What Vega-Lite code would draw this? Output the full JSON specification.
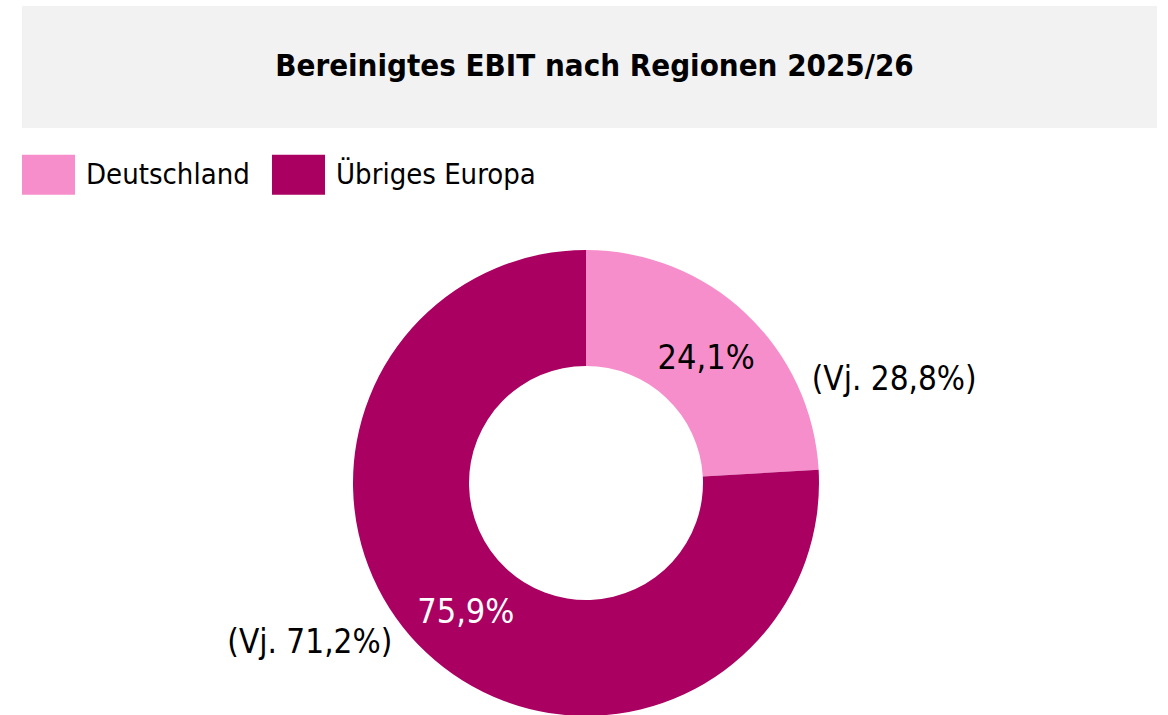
{
  "$schema": "https://vega.github.io/schema/vega-lite/v6.json",
  "padding": {"left": 22, "top": 6, "right": 0, "bottom": 0},
  "background": "white",
  "config": {
    "view": {"stroke": null},
    "font": "DejaVu Sans Condensed, Roboto Condensed, Roboto, sans-serif",
    "concat": {"spacing": 20}
  },
  "resolve": {"legend": {"color": "independent"}, "scale": {"color": "independent"}},
  "datasets": {
    "regions": [
      {"region": "Deutschland", "share": 24.1, "label": "24,1%", "prior": "(Vj. 28,8%)"},
      {"region": "Übriges Europa", "share": 75.9, "label": "75,9%", "prior": "(Vj. 71,2%)"}
    ],
    "title": [{"text": "Bereinigtes EBIT nach Regionen 2025/26"}]
  },
  "vconcat": [
    {
      "width": 1135,
      "height": 122,
      "view": {"fill": "#f2f2f2", "stroke": null},
      "data": {"name": "title"},
      "mark": {"type": "text", "font": "DejaVu Sans Condensed, Roboto Condensed, Roboto, sans-serif", "fontWeight": "bold", "fontSize": 31, "color": "#000000", "align": "center", "baseline": "middle", "dx": 5},
      "encoding": {"text": {"field": "text"}}
    },
    {
      "width": 1128,
      "height": 466,
      "data": {"name": "regions"},
      "encoding": {
        "theta": {"field": "share", "type": "quantitative", "stack": true, "scale": {"type": "linear"}},
        "order": {"field": "region", "sort": "ascending"}
      },
      "layer": [
        {
          "mark": {"type": "arc", "innerRadius": 117, "outerRadius": 233},
          "encoding": {
            "color": {
              "field": "region",
              "type": "nominal",
              "scale": {"domain": ["Deutschland", "Übriges Europa"], "range": ["#f68ecb", "#aa0061"]},
              "legend": {
                "title": null,
                "orient": "top",
                "direction": "horizontal",
                "offset": 55,
                "padding": 0,
                "symbolType": "M-1,-0.755H1V0.755H-1Z",
                "symbolSize": 2809,
                "symbolStrokeWidth": 0,
                "symbolOpacity": 1,
                "labelFont": "DejaVu Sans Condensed, Roboto Condensed, Roboto, sans-serif",
                "labelFontSize": 29,
                "labelColor": "#000000",
                "labelOffset": 11,
                "labelLimit": 400,
                "columnPadding": 22
              }
            }
          }
        },
        {
          "mark": {"type": "text", "radius": 175, "fontSize": 34, "align": "center", "baseline": "middle", "dy": 3},
          "encoding": {
            "text": {"field": "label"},
            "color": {
              "condition": {"test": "datum.region === 'Deutschland'", "value": "#000000"},
              "value": "#ffffff"
            }
          }
        },
        {
          "mark": {"type": "text", "radius": 175, "fontSize": 33, "align": "center", "baseline": "middle", "dx": 188, "dy": 24, "color": "#000000"},
          "encoding": {
            "text": {
              "condition": {"test": "datum.region === 'Deutschland'", "field": "prior"},
              "value": ""
            }
          }
        },
        {
          "mark": {"type": "text", "radius": 175, "fontSize": 33, "align": "center", "baseline": "middle", "dx": -156, "dy": 33, "color": "#000000"},
          "encoding": {
            "text": {
              "condition": {"test": "datum.region === 'Übriges Europa'", "field": "prior"},
              "value": ""
            }
          }
        }
      ]
    }
  ]
}
